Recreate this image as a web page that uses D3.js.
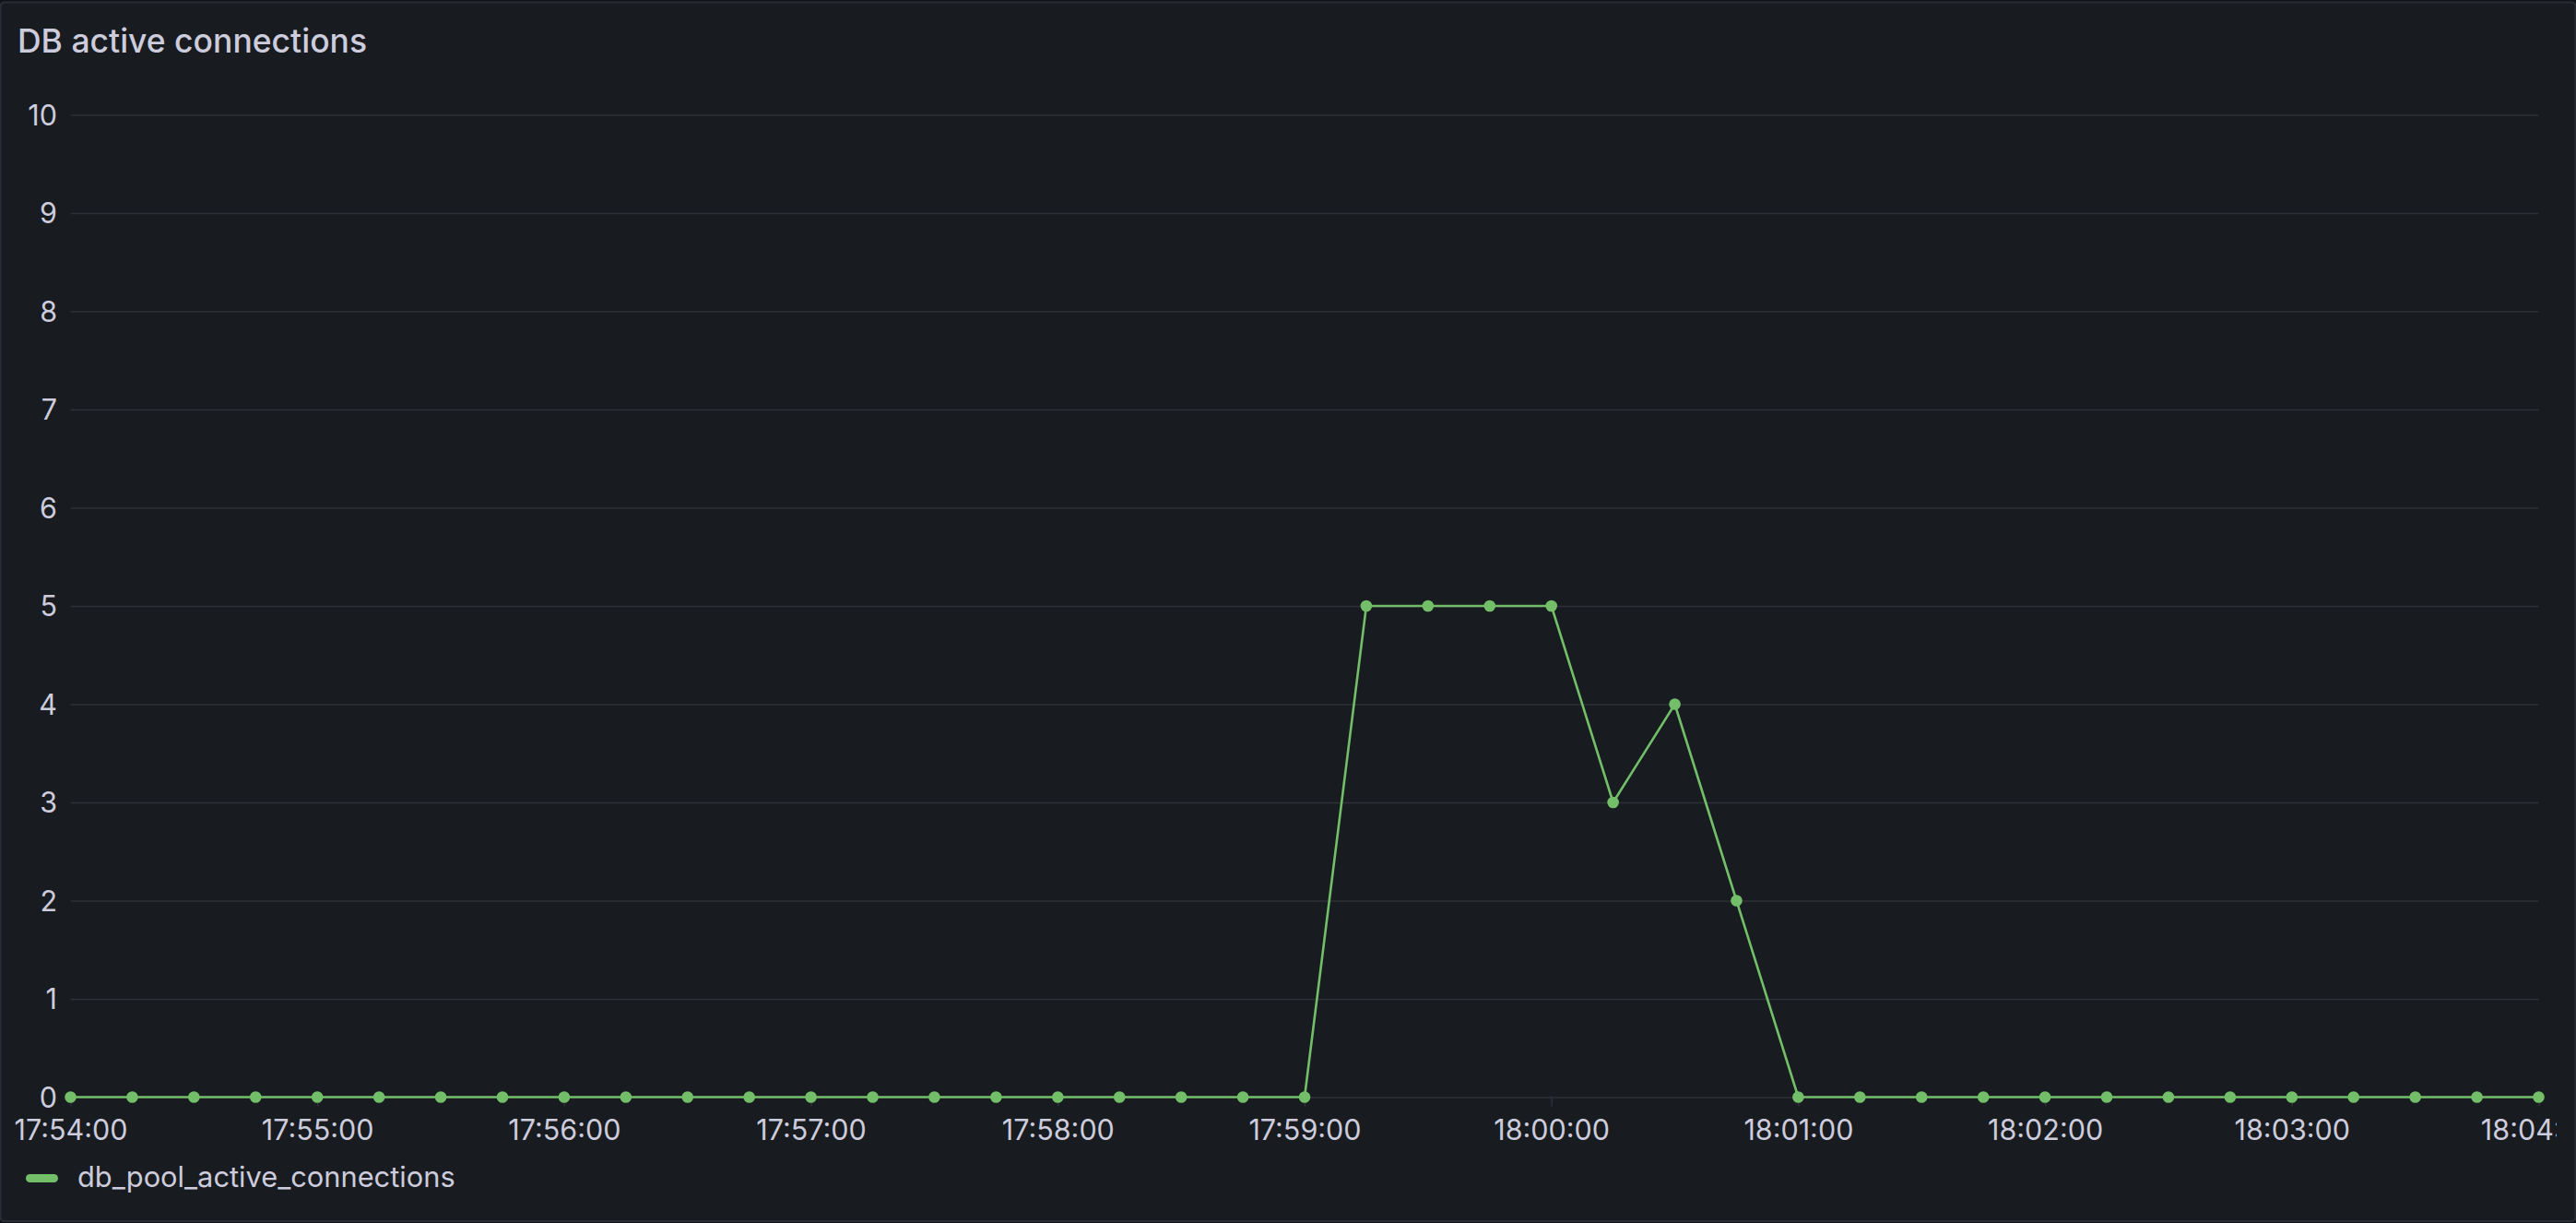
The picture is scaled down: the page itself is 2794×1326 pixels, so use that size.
<!DOCTYPE html>
<html>
<head>
<meta charset="utf-8">
<script src="https://cdn.jsdelivr.net/npm/d3@7"></script>
<style>
  html, body { margin: 0; padding: 0; background: #111217; }
  svg { display: block; }
  text { font-family: Inter, "Noto Sans", sans-serif; }
</style>
</head>
<body>
<svg id="chart" width="2794" height="1326"></svg>
<script>
// ---- data ----
const chartTitle = "DB active connections";
const seriesName = "db_pool_active_connections";
const timestamps = [
  "17:54:00","17:54:15","17:54:30","17:54:45",
  "17:55:00","17:55:15","17:55:30","17:55:45",
  "17:56:00","17:56:15","17:56:30","17:56:45",
  "17:57:00","17:57:15","17:57:30","17:57:45",
  "17:58:00","17:58:15","17:58:30","17:58:45",
  "17:59:00","17:59:15","17:59:30","17:59:45",
  "18:00:00","18:00:15","18:00:30","18:00:45",
  "18:01:00","18:01:15","18:01:30","18:01:45",
  "18:02:00","18:02:15","18:02:30","18:02:45",
  "18:03:00","18:03:15","18:03:30","18:03:45",
  "18:04:00"
];
const values = [
  0,0,0,0, 0,0,0,0, 0,0,0,0, 0,0,0,0, 0,0,0,0,
  0,5,5,5, 5,3,4,2, 0,0,0,0, 0,0,0,0, 0,0,0,0,
  0
];
const xTickLabels = ["17:54:00","17:55:00","17:56:00","17:57:00","17:58:00","17:59:00",
                     "18:00:00","18:01:00","18:02:00","18:03:00","18:04:00"];
const yTickValues = [0,1,2,3,4,5,6,7,8,9,10];

// ---- setup ----
const parseT = d3.timeParse("%H:%M:%S");
const fmtT = d3.timeFormat("%H:%M:%S");
const data = timestamps.map((t, i) => ({ t: parseT(t), v: values[i] }));

const W = 2794, H = 1326;
const plot = { left: 76.5, right: 2753.5, top: 124.5, bottom: 1189.5 };

const svg = d3.select("#chart");
const textColor = "#ccccdc";
const gridColor = "#2e3137";
const lineColor = "#73bf69";

// panel
svg.append("rect").attr("x", 0.5).attr("y", 2.5).attr("width", W - 1).attr("height", H - 4.5)
  .attr("rx", 4).attr("fill", "#181b1f").attr("stroke", "#2a2d33").attr("stroke-width", 2);

// title
svg.append("text").attr("x", 19).attr("y", 57).attr("fill", textColor)
  .attr("font-size", 35.5).attr("font-weight", 500).text(chartTitle);

const x = d3.scaleTime()
  .domain([parseT(xTickLabels[0]), parseT(xTickLabels[xTickLabels.length - 1])])
  .range([plot.left, plot.right]);
const y = d3.scaleLinear().domain([0, 10]).range([plot.bottom, plot.top]);

const xTicks = xTickLabels.map(parseT);

svg.append("defs").append("clipPath").attr("id", "lblclip")
  .append("rect").attr("x", 0).attr("y", 0).attr("width", 2773).attr("height", H);

// horizontal grid
const yAxis = d3.axisLeft(y).tickValues(yTickValues).tickFormat(d3.format("d"))
  .tickSize(-(plot.right - plot.left)).tickPadding(14);
const gy = svg.append("g").attr("transform", `translate(${plot.left},0)`).call(yAxis);
gy.select(".domain").remove();
gy.selectAll(".tick line").attr("stroke", gridColor).attr("stroke-width", 1.5);
gy.selectAll(".tick text").attr("fill", textColor).attr("font-size", 30.5)
  .attr("x", 62 - plot.left).attr("dy", "0.36em");

// vertical grid + x labels
const xAxis = d3.axisBottom(x).tickValues(xTicks).tickFormat(fmtT)
  .tickSize(-(plot.bottom - plot.top)).tickPadding(0);
const gx = svg.append("g").attr("transform", `translate(0,${plot.bottom})`)
  .attr("clip-path", "url(#lblclip)").call(xAxis);
gx.select(".domain").remove();
gx.selectAll(".tick line").attr("stroke", gridColor).attr("stroke-width", 1.5).attr("y2", -(plot.bottom - plot.top)).attr("y1", 10);
gx.selectAll(".tick text").attr("fill", textColor).attr("font-size", 30.5)
  .attr("y", 46.5).attr("dy", 0);

// line
const line = d3.line().x(d => x(d.t)).y(d => y(d.v));
svg.append("path").datum(data).attr("d", line).attr("fill", "none")
  .attr("stroke", lineColor).attr("stroke-width", 2.6).attr("stroke-linejoin", "round");

svg.append("g").selectAll("circle").data(data).join("circle")
  .attr("cx", d => x(d.t)).attr("cy", d => y(d.v)).attr("r", 6.3).attr("fill", lineColor);

// legend
svg.append("rect").attr("x", 28).attr("y", 1273).attr("width", 35).attr("height", 9)
  .attr("rx", 4.5).attr("fill", lineColor);
svg.append("text").attr("x", 84).attr("y", 1287).attr("fill", textColor)
  .attr("font-size", 30.8).text(seriesName);
</script>
</body>
</html>
